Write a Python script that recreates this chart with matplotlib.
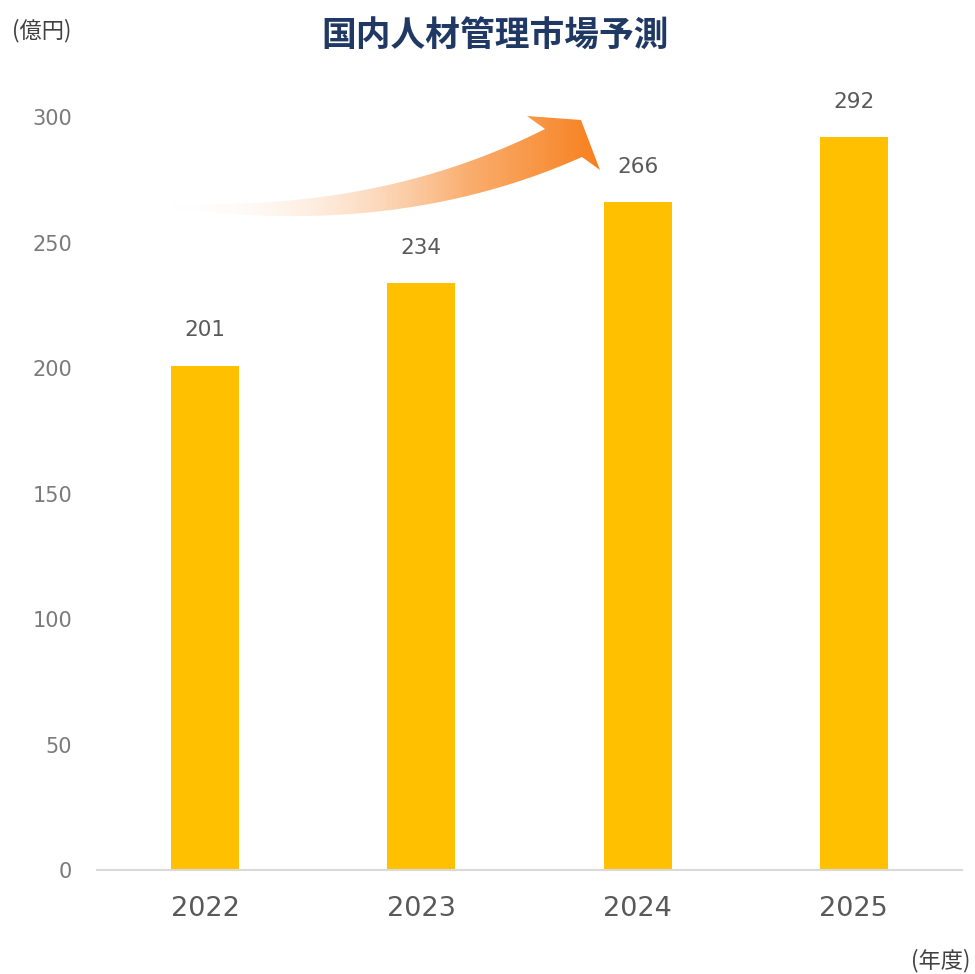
import numpy as np
import matplotlib.pyplot as plt
from matplotlib.path import Path
from matplotlib.patches import PathPatch

plt.rcParams['font.family'] = ['Noto Sans CJK JP', 'DejaVu Sans']

years = ['2022', '2023', '2024', '2025']
values = [201, 234, 266, 292]
yticks = [0, 50, 100, 150, 200, 250, 300]

bar_color = '#FFC000'
text_gray = '#595959'

fig = plt.figure(figsize=(9.75, 9.74), dpi=100)
ax = fig.add_axes([97 / 975, 1 - 870 / 974, 865 / 975, 778 / 974])

x = np.arange(len(years))
ax.bar(x, values, width=0.314, color=bar_color, zorder=2)

for xi, v in zip(x, values):
    ax.text(xi, v + 14, str(v), ha='center', va='center',
            fontsize=15.5, color=text_gray, family='DejaVu Sans')

ax.set_xlim(-0.5, 3.5)
ax.set_ylim(0, 310)
ax.set_xticks(x)
ax.set_xticklabels(years, fontsize=19.5, color=text_gray, family='DejaVu Sans')
ax.set_yticks(yticks)
ax.set_yticklabels([str(t) for t in yticks], fontsize=15, color='#7a7a7a',
                   family='DejaVu Sans')
ax.tick_params(axis='both', length=0)
ax.tick_params(axis='x', pad=19)
ax.tick_params(axis='y', pad=18)

for s in ['top', 'right', 'left']:
    ax.spines[s].set_visible(False)
ax.spines['bottom'].set_color('#d9d9d9')
ax.spines['bottom'].set_linewidth(1.5)

fig.text(495 / 975, 1 - 36 / 974, '国内人材管理市場予測', ha='center', va='center',
         fontsize=25, fontweight='bold', color='#1F3864')
fig.text(42 / 975, 1 - 31 / 974, '(億円)', ha='center', va='center',
         fontsize=16, color='#404040')
fig.text(941 / 975, 1 - 961 / 974, '(年度)', ha='center', va='center',
         fontsize=16, color='#404040')

# decorative gradient arrow, drawn in figure pixel space
ov = fig.add_axes([0, 0, 1, 1], zorder=5)
ov.set_xlim(0, 975)
ov.set_ylim(974, 0)
ov.axis('off')
ov.patch.set_alpha(0)


def qbez(p0, c, p2, n=40):
    t = np.linspace(0, 1, n)[:, None]
    return (1 - t) ** 2 * np.array(p0) + 2 * t * (1 - t) * np.array(c) + t ** 2 * np.array(p2)


upper = qbez((172, 203), (380, 212), (545, 129))
lower = qbez((582, 157), (400, 238), (172, 208))
head = np.array([(545, 129), (527, 116), (581, 120), (600, 170), (582, 157)])
pts = np.vstack([upper, head[1:], lower])
codes = [Path.MOVETO] + [Path.LINETO] * (len(pts) - 1)
arrow_path = Path(pts, codes)
patch = PathPatch(arrow_path, facecolor='none', edgecolor='none')
ov.add_patch(patch)

gx = np.linspace(0, 1, 256)
grad = np.ones((2, 256, 4))
c0 = np.array([1.0, 1.0, 1.0])
c1 = np.array([247, 128, 30]) / 255
for i, g in enumerate(gx):
    gg = g ** 1.2
    grad[:, i, :3] = c0 * (1 - gg) + c1 * gg
    grad[:, i, 3] = min(1.0, 0.1 + g * 1.3)
im = ov.imshow(grad, extent=(172, 600, 220, 110), aspect='auto', interpolation='bilinear')
im.set_clip_path(patch)

fig.savefig('out.png', dpi=100)
